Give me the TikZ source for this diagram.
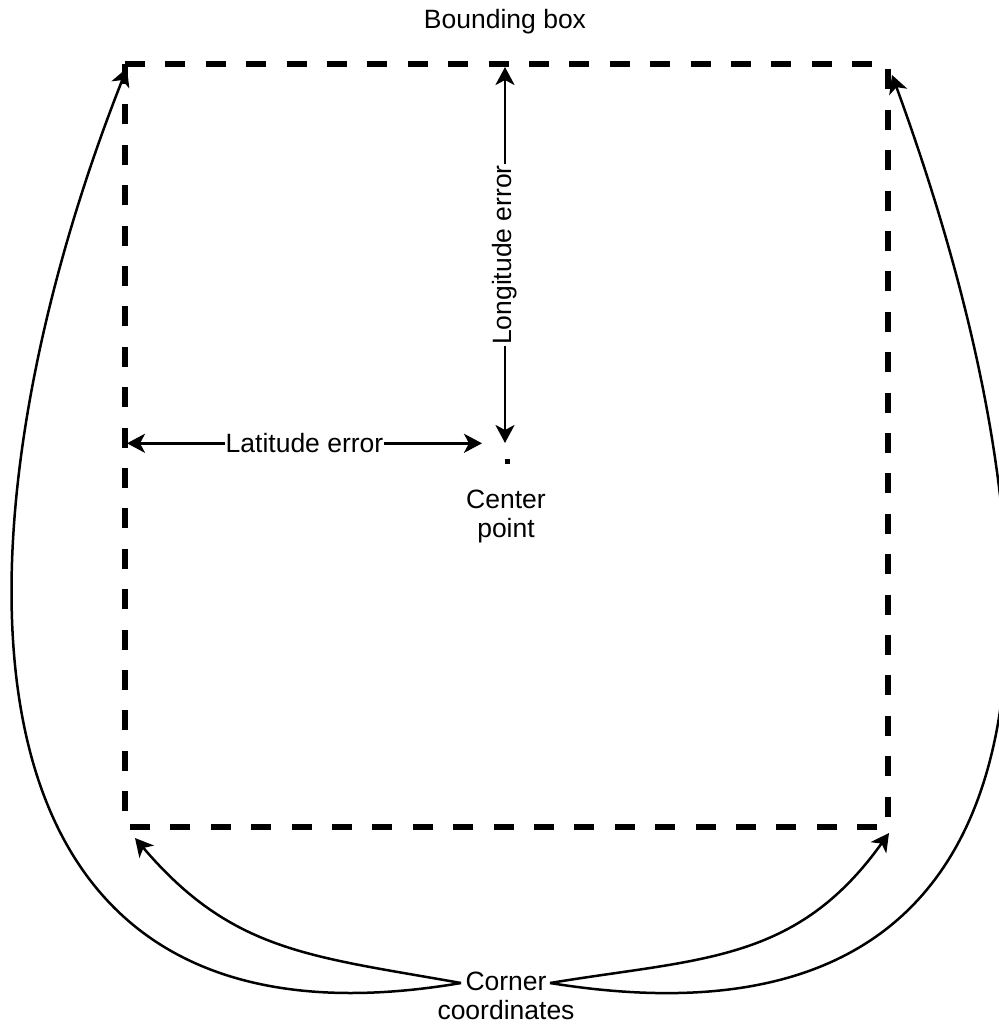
\documentclass[tikz,border=0pt]{standalone}
\usepackage{fontspec}
\setmainfont{Liberation Sans}
\usetikzlibrary{arrows.meta}
\begin{document}
\begin{tikzpicture}[x=1pt,y=-1pt,
  lbl/.style={font=\fontsize{26.5}{29}\selectfont, inner sep=2pt, align=center},
  onlinelbl/.style={lbl, fill=white, inner sep=1pt},
  tipstyle/.style={},
  dimarrow/.style={line width=2.8pt, {Stealth[length=18pt,width=19pt,inset=5pt]}-{Stealth[length=18pt,width=19pt,inset=5pt]}},
  cornerarrow/.style={line width=2.5pt, -{Stealth[length=18pt,width=19pt,inset=5pt]}},
  boxline/.style={line width=6pt, dash pattern=on 20pt off 20.4pt, line cap=butt, line join=miter}]
  \path[use as bounding box] (0,0) rectangle (998,1027);

  % dashed bounding box corners
  \coordinate (tl) at (125,64.5);
  \coordinate (tr) at (887.7,64.5);
  \coordinate (br) at (887.7,826.5);
  \coordinate (bl) at (125,826.5);
  \draw[boxline] (tl) -- (tr) -- (br) -- (bl) -- cycle;

  \node[lbl, anchor=base] (title) at (505,29) {Bounding box};

  % center point
  \node[fill=black, minimum size=5pt, inner sep=0pt] (cp) at (507.5,461.7) {};
  \node[lbl, anchor=base] (cptext) at (506,537) {Center\\point};

  % error extents
  \coordinate (lonTop) at (505,67);
  \coordinate (lonBot) at (505,443);
  \draw[dimarrow] (lonBot) -- node[onlinelbl, rotate=90] (lonlbl) {Longitude error} (lonTop);

  \coordinate (latL) at (127,443.3);
  \coordinate (latR) at (482,443.3);
  \draw[dimarrow] (latL) -- node[onlinelbl] (latlbl) {Latitude error} (latR);

  % corner coordinates label and its curved arrows
  \node[lbl, anchor=base] (cc) at (506,1019) {Corner\\coordinates};
  \coordinate (ccl) at (461,983);
  \coordinate (ccr) at (550,983);
  \coordinate (tipTL) at (127,68);
  \coordinate (tipBL) at (135,838);
  \coordinate (tipBR) at (889,833);
  \coordinate (tipTR) at (892,75);

  \draw[cornerarrow] (ccl) .. controls (-80,1075) and (-49,513) .. (tipTL);
  \draw[cornerarrow] (ccl) .. controls (310,956) and (232,952) .. (tipBL);
  \draw[cornerarrow] (ccr) .. controls (701,958) and (796,963) .. (tipBR);
  \draw[cornerarrow] (ccr) .. controls (1120,1075) and (1055,520) .. (tipTR);
\end{tikzpicture}
\end{document}
